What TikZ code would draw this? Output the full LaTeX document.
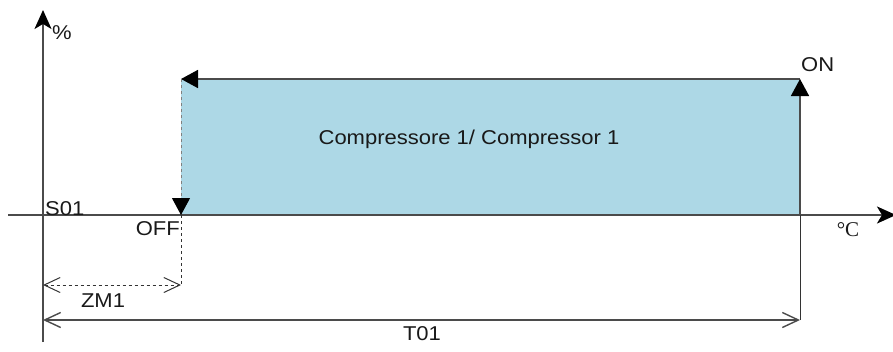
\documentclass[tikz,border=0pt]{standalone}
\usepackage{fontspec}
\setmainfont[FakeStretch=1.1]{Liberation Sans}
\newfontfamily\serifdeg{Liberation Serif}
\usetikzlibrary{arrows.meta}
\definecolor{boxblue}{RGB}{173,216,230}
\definecolor{axisgray}{RGB}{75,75,75}
\definecolor{txt}{RGB}{25,25,25}
\begin{document}
\begin{tikzpicture}[x=1pt,y=-1pt,
  axisline/.style={draw=axisgray,line width=1.8pt},
  edgeline/.style={draw=axisgray,line width=1.6pt},
  thinline/.style={draw=black!80,line width=1pt},
  filltip/.style={-{Triangle[length=17pt,width=18pt,color=black]}},
  axtip/.style={-{Stealth[length=19pt,width=17pt,inset=5pt,color=black]}},
  opentips/.style={{Straight Barb[length=16pt,width=15pt]}-{Straight Barb[length=16pt,width=15pt]}},
  lbl/.style={inner sep=0pt,text=txt,font=\fontsize{20}{23}\selectfont}]
\useasboundingbox (0,0) rectangle (893,351);
% coordinates
\coordinate (ybot) at (43,342);
\coordinate (ytop) at (43,10);
\coordinate (xl) at (8,215);
\coordinate (xr) at (896,215);
\coordinate (tl) at (181,79);
\coordinate (tr) at (800,79);
\coordinate (bl) at (181,215);
\coordinate (br) at (800,215);
\coordinate (zl) at (43,285);
\coordinate (zr) at (181,285);
\coordinate (Tl) at (43,320);
\coordinate (Tr) at (800,320);
% box fill
\fill[boxblue] (tl) rectangle (br);
% axes
\draw[axisline,axtip] (ybot) -- (ytop);
\draw[axisline,axtip] (xl) -- (xr);
% box edges with arrows
\draw[edgeline,filltip] (tr) -- (tl);
\draw[edgeline,filltip] (br) -- (tr);
\draw[draw=gray,line width=1pt,dashed,filltip] (tl) -- (bl);
% dimension lines
\draw[thinline,dashed] (bl) -- (zr);
\draw[thinline,dashed,opentips] (zl) -- (zr);
\draw[thinline] (br) -- (Tr);
\draw[draw=axisgray,line width=1.4pt,opentips] (Tl) -- (Tr);
% labels
\node[lbl] (pct) at (62,33) {\%};
\node[lbl,anchor=base west] (s01) at (45,215) {S01};
\node[lbl,anchor=east] (off) at (180,229) {OFF};
\node[lbl] (zm1) at (103,301) {ZM1};
\node[lbl] (t01) at (422,334) {T01};
\node[lbl,anchor=west] (on) at (801,65) {ON};
\node[lbl,font=\serifdeg\fontsize{21}{23}\selectfont] (degc) at (848,230) {°C};
\node[lbl] (comp) at (469,139) {Compressore 1/ Compressor 1};
\end{tikzpicture}
\end{document}
